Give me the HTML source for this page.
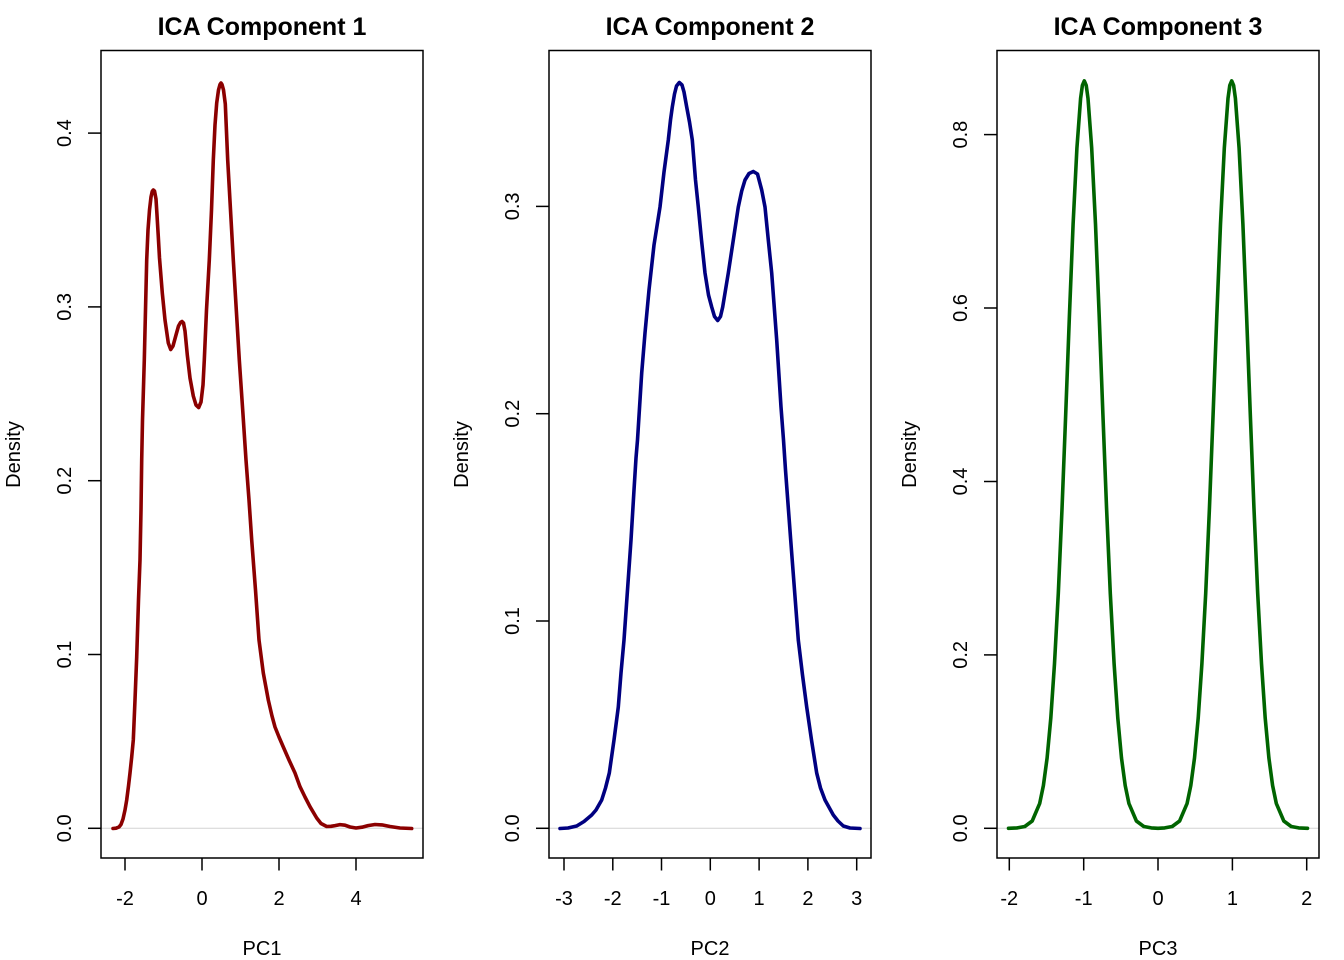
<!DOCTYPE html>
<html>
<head>
<meta charset="utf-8">
<style>
  html, body { margin: 0; padding: 0; background: #ffffff; }
  svg { display: block; }
  text { font-family: "Liberation Sans", Arial, Helvetica, sans-serif; fill: #000; }
  .t { font-size: 25px; font-weight: bold; text-anchor: middle; }
  .tk { font-size: 20px; text-anchor: middle; }
  .ax { stroke: #000; stroke-width: 1.5; fill: none; }
  .zero { stroke: #d3d3d3; stroke-width: 1; }
  .curve { fill: none; stroke-width: 3.6; stroke-linejoin: round; stroke-linecap: round; }
</style>
</head>
<body>
<svg width="1344" height="960" viewBox="0 0 1344 960" xmlns="http://www.w3.org/2000/svg">
  <rect x="0" y="0" width="1344" height="960" fill="#ffffff"/>

  <!-- ================= PANEL 1 ================= -->
  <line class="zero" x1="101" y1="828.3" x2="423" y2="828.3"/>
  <polyline class="curve" stroke="#8B0000" points="
    113,828.5 116,828.2 119,827 121,824.5 123,819 125,810 126.7,800 128.5,786 130,773 131.7,757 133.3,740
    135,700 136.7,657 138.5,600 140,560 141,510 141.7,460 142.5,420 144.3,360 145.5,310 146.7,260 148,230
    149.5,210 151,197 152.2,191.5 153.3,190 154.5,191 156,199 157,215 158.2,235 159.5,258 162.3,293 165,320
    168.3,343 170.7,349.5 173,346 176,335 178.5,326 180.5,322.5 182,321.5 183.5,323 185,331 187.3,355
    190,378 193.3,396 196,405 198.7,407.5 201,402 203,385 204.3,360 206.5,310 209.3,260 211.5,210 213.3,160
    215,125 216.7,103 218.5,90 220,84.5 221,83 222,84.5 223.5,90 225.3,104 227.7,160 230.5,210 233.3,260
    236.3,310 239.3,360 242.7,410 246,460 249,500 251.7,540 255.5,590 259,640 263.3,673 268.3,700 272,716
    275,727 279,737 283.3,747 289,760 295,773 300,786.7 305,797 310,806.7 316.7,818 321,823.5 326.7,826.5
    331,826.3 335,825.6 340,824.6 345,825.2 350,827 356,828 362,827.2 368,825.6 375,824.5 382,824.9
    390,826.5 400,828 411.7,828.5"/>
  <rect class="ax" x="101" y="50.5" width="322" height="807.5"/>
  <!-- x axis ticks -->
  <g class="ax">
    <line x1="125" y1="858" x2="125" y2="870.5"/>
    <line x1="202" y1="858" x2="202" y2="870.5"/>
    <line x1="279" y1="858" x2="279" y2="870.5"/>
    <line x1="356" y1="858" x2="356" y2="870.5"/>
  </g>
  <text class="tk" x="125" y="905">-2</text>
  <text class="tk" x="202" y="905">0</text>
  <text class="tk" x="279" y="905">2</text>
  <text class="tk" x="356" y="905">4</text>
  <!-- y axis ticks -->
  <g class="ax">
    <line x1="88" y1="828.3" x2="101" y2="828.3"/>
    <line x1="88" y1="654.5" x2="101" y2="654.5"/>
    <line x1="88" y1="480.7" x2="101" y2="480.7"/>
    <line x1="88" y1="306.9" x2="101" y2="306.9"/>
    <line x1="88" y1="133.1" x2="101" y2="133.1"/>
  </g>
  <text class="tk" transform="translate(71,828.3) rotate(-90)">0.0</text>
  <text class="tk" transform="translate(71,654.5) rotate(-90)">0.1</text>
  <text class="tk" transform="translate(71,480.7) rotate(-90)">0.2</text>
  <text class="tk" transform="translate(71,306.9) rotate(-90)">0.3</text>
  <text class="tk" transform="translate(71,133.1) rotate(-90)">0.4</text>
  <text class="t" x="262" y="35">ICA Component 1</text>
  <text class="tk" x="262" y="955">PC1</text>
  <text class="tk" transform="translate(20,454.5) rotate(-90)">Density</text>

  <!-- ================= PANEL 2 ================= -->
  <line class="zero" x1="549" y1="828.3" x2="871" y2="828.3"/>
  <polyline class="curve" stroke="#000080" points="
    560,828.5 568,828 576.7,826 584,821.5 591.7,815 596,810 601.7,800 605.5,788 609.3,773 614,740 618.3,707
    621,673 624,640 627.5,590 631,540 634,490 636,458 637.5,440 641.7,373 645,333 649,290 654,245 660,207
    664,172 668.3,140 670.5,120 672.3,107 674.5,94 676.5,86 679.3,82.5 682,85 684,92 686.7,107 689.5,122
    692.3,140 695.5,180 698.3,207 701.5,240 705,273 708.5,295 711.7,307 714.5,316.5 717.7,320.5 720.5,316.5
    722.7,307 725.5,290 728.3,273 733.3,240 738.3,207 741.7,191 745,180 749,173.5 753.3,171.5 757.5,174
    761.7,190 765,207 768.3,240 771.7,273 776.7,340 781,407 783.5,440 785.5,470 790.7,540 794.5,590
    798.3,640 802.5,675 806.7,707 811.5,740 816.7,773 820.5,788 825,800 833.3,815 838,821 843.3,826
    850,828 860,828.5"/>
  <rect class="ax" x="549" y="50.5" width="322" height="807.5"/>
  <g class="ax">
    <line x1="564" y1="858" x2="564" y2="870.5"/>
    <line x1="612.8" y1="858" x2="612.8" y2="870.5"/>
    <line x1="661.5" y1="858" x2="661.5" y2="870.5"/>
    <line x1="710.3" y1="858" x2="710.3" y2="870.5"/>
    <line x1="759.1" y1="858" x2="759.1" y2="870.5"/>
    <line x1="807.9" y1="858" x2="807.9" y2="870.5"/>
    <line x1="856.7" y1="858" x2="856.7" y2="870.5"/>
  </g>
  <text class="tk" x="564" y="905">-3</text>
  <text class="tk" x="612.8" y="905">-2</text>
  <text class="tk" x="661.5" y="905">-1</text>
  <text class="tk" x="710.3" y="905">0</text>
  <text class="tk" x="759.1" y="905">1</text>
  <text class="tk" x="807.9" y="905">2</text>
  <text class="tk" x="856.7" y="905">3</text>
  <g class="ax">
    <line x1="536" y1="828.3" x2="549" y2="828.3"/>
    <line x1="536" y1="621" x2="549" y2="621"/>
    <line x1="536" y1="413.7" x2="549" y2="413.7"/>
    <line x1="536" y1="206.4" x2="549" y2="206.4"/>
  </g>
  <text class="tk" transform="translate(519,828.3) rotate(-90)">0.0</text>
  <text class="tk" transform="translate(519,621) rotate(-90)">0.1</text>
  <text class="tk" transform="translate(519,413.7) rotate(-90)">0.2</text>
  <text class="tk" transform="translate(519,206.4) rotate(-90)">0.3</text>
  <text class="t" x="710" y="35">ICA Component 2</text>
  <text class="tk" x="710" y="955">PC2</text>
  <text class="tk" transform="translate(468,454.5) rotate(-90)">Density</text>

  <!-- ================= PANEL 3 ================= -->
  <line class="zero" x1="997" y1="828.3" x2="1319" y2="828.3"/>
  <polyline class="curve" stroke="#006400" points="
    1008.5,828.3 1017.3,827.9 1024.8,826.5 1032.2,821.0 1039.7,803.4 1043.4,785.5 1047.1,758.0 1050.8,718.1
    1054.5,663.6 1058.3,593.5 1062.0,509.1 1065.7,414.3 1069.4,316.1 1073.1,224.1 1076.9,148.3 1080.6,98.4
    1082.4,85.3 1084.3,80.9 1086.2,85.3 1088.0,98.4 1091.7,148.3 1095.5,224.1 1099.2,316.1 1102.9,414.3
    1106.6,509.1 1110.3,593.5 1114.1,663.6 1117.8,718.1 1121.5,758.0 1125.2,785.5 1128.9,803.4 1136.4,821.0
    1143.8,826.5 1151.3,827.9 1158,828.3 1164.7,827.9 1172.2,826.5 1179.6,821.0 1187.1,803.4 1190.8,785.5
    1194.5,758.0 1198.2,718.1 1201.9,663.6 1205.7,593.5 1209.4,509.1 1213.1,414.3 1216.8,316.1 1220.5,224.1
    1224.3,148.3 1228.0,98.4 1229.8,85.3 1231.7,80.9 1233.6,85.3 1235.4,98.4 1239.1,148.3 1242.9,224.1
    1246.6,316.1 1250.3,414.3 1254.0,509.1 1257.7,593.5 1261.5,663.6 1265.2,718.1 1268.9,758.0 1272.6,785.5
    1276.3,803.4 1283.8,821.0 1291.2,826.5 1298.7,827.9 1307.5,828.3"/>
  <rect class="ax" x="997" y="50.5" width="322" height="807.5"/>
  <g class="ax">
    <line x1="1009.3" y1="858" x2="1009.3" y2="870.5"/>
    <line x1="1083.7" y1="858" x2="1083.7" y2="870.5"/>
    <line x1="1158" y1="858" x2="1158" y2="870.5"/>
    <line x1="1232.4" y1="858" x2="1232.4" y2="870.5"/>
    <line x1="1306.7" y1="858" x2="1306.7" y2="870.5"/>
  </g>
  <text class="tk" x="1009.3" y="905">-2</text>
  <text class="tk" x="1083.7" y="905">-1</text>
  <text class="tk" x="1158" y="905">0</text>
  <text class="tk" x="1232.4" y="905">1</text>
  <text class="tk" x="1306.7" y="905">2</text>
  <g class="ax">
    <line x1="984" y1="828.3" x2="997" y2="828.3"/>
    <line x1="984" y1="654.9" x2="997" y2="654.9"/>
    <line x1="984" y1="481.5" x2="997" y2="481.5"/>
    <line x1="984" y1="308" x2="997" y2="308"/>
    <line x1="984" y1="134.6" x2="997" y2="134.6"/>
  </g>
  <text class="tk" transform="translate(967,828.3) rotate(-90)">0.0</text>
  <text class="tk" transform="translate(967,654.9) rotate(-90)">0.2</text>
  <text class="tk" transform="translate(967,481.5) rotate(-90)">0.4</text>
  <text class="tk" transform="translate(967,308) rotate(-90)">0.6</text>
  <text class="tk" transform="translate(967,134.6) rotate(-90)">0.8</text>
  <text class="t" x="1158" y="35">ICA Component 3</text>
  <text class="tk" x="1158" y="955">PC3</text>
  <text class="tk" transform="translate(916,454.5) rotate(-90)">Density</text>
</svg>
</body>
</html>
